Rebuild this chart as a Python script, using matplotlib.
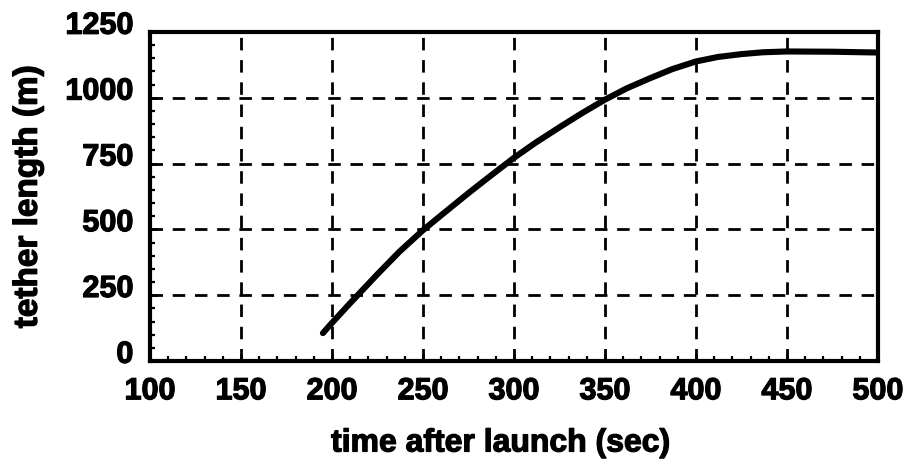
import numpy as np
import matplotlib
matplotlib.use("Agg")
import matplotlib.pyplot as plt
import matplotlib.transforms as mtransforms
import matplotlib.patheffects as pe
from matplotlib.ticker import MultipleLocator

plt.rcParams['font.family'] = ['Liberation Sans', 'DejaVu Sans']
plt.rcParams['font.weight'] = 'bold'

# time after launch (sec) and tether length (m)
time_s = [195, 200, 210, 225, 237, 250, 262, 275, 287, 300, 312, 325,
          337, 350, 362, 375, 387, 400, 412, 425, 437, 450, 475, 500]
length_m = [106, 145, 220, 330, 415, 497, 565, 638, 703, 772, 830, 888,
            940, 993, 1036, 1075, 1109, 1138, 1155, 1166, 1173, 1176, 1175, 1172]

x_ticks = [100, 150, 200, 250, 300, 350, 400, 450, 500]
y_ticks = [0, 250, 500, 750, 1000, 1250]

fig = plt.figure(figsize=(9.06, 4.64), dpi=100)
ax = fig.add_axes([0.1656, 0.2198, 0.969 - 0.1656, 0.9289 - 0.2198])

ax.plot(time_s, length_m, color='black', lw=4.4, solid_capstyle='round',
        solid_joinstyle='round', zorder=3)

ax.set_xlim(100, 500)
ax.set_ylim(0, 1250)
ax.set_xticks(x_ticks)
ax.set_yticks(y_ticks)
ax.xaxis.set_minor_locator(MultipleLocator(10))
ax.yaxis.set_minor_locator(MultipleLocator(50))

ax.grid(True, which='major', color='black', lw=2.0, ls=(0, (4.5, 3.5)))
ax.set_axisbelow(True)

for s in ax.spines.values():
    s.set_linewidth(3.0)

ax.tick_params(which='major', direction='in', length=5, width=2,
               labelsize=22, top=False, right=False)
ax.tick_params(which='minor', direction='in', length=3.5, width=1.6,
               top=False, right=False)
ax.tick_params(axis='x', which='major', pad=11)
ax.tick_params(axis='y', which='major', pad=12)

heavy = [pe.withStroke(linewidth=0.9, foreground='black')]

# y tick labels sit a little above their lines in the original
shift = mtransforms.ScaledTranslation(0, 7 / 72, fig.dpi_scale_trans)
for lab in ax.get_yticklabels():
    lab.set_transform(lab.get_transform() + shift)

for lab in ax.get_xticklabels() + ax.get_yticklabels():
    lab.set_fontweight('bold')
    lab.set_path_effects(heavy)

ax.set_xlabel('time after launch (sec)', fontsize=23, fontweight='bold',
              path_effects=heavy)
ax.set_ylabel('tether length (m)', fontsize=24, fontweight='bold',
              path_effects=heavy)
ax.xaxis.set_label_coords(0.482, -0.205)
ax.yaxis.set_label_coords(-0.146, 0.5)

fig.savefig('out.png', dpi=100)
